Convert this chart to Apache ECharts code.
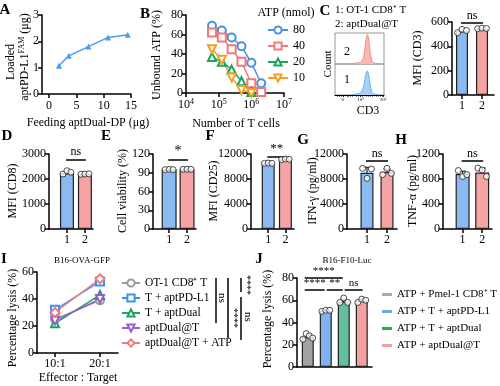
<!DOCTYPE html>
<html><head><meta charset="utf-8">
<script src="https://cdn.jsdelivr.net/npm/echarts@6.0.0/dist/echarts.min.js"></script>
<style>html,body{margin:0;padding:0;background:#fff;}#chart{width:500px;height:386px;}</style>
</head><body><div id="chart"></div>
<script>
// ================= DATA =================
// Panel A
const aFeeding = [1.8, 3.6, 7.2, 10.8, 14.4];
const aLoaded  = [1.07, 1.45, 1.80, 2.15, 2.25];
const aXTicks = [0, 5, 10, 15];
const aYTicks = [0, 1, 2, 3];
// Panel B
const bCells = [62500, 125000, 250000, 500000, 1000000, 2000000];
const bNames = ['80', '40', '20', '10'];
const bATP80 = [69, 64, 57, 48, 31, 10];
const bATP40 = [62, 57, 45, 32, 10, 1];
const bATP20 = [37, 32, 24, 12, 1];
const bATP10 = [45, 34, 16, 3, 0];
const bXTicks = [1e4, 1e5, 1e6, 1e7];
const bYTicks = [0, 20, 40, 60, 80];
// Panel C histogram
const cHistX  = [1.6, 1.9, 2.2, 2.5, 2.7, 2.9, 3.0, 3.1, 3.2, 3.3, 3.4, 3.5, 3.6, 3.7, 3.8, 4.0, 4.3, 4.6];
const cCount2 = [0.01,0.02,0.03,0.05,0.09,0.22,0.40,0.66,0.90,1.00,0.90,0.66,0.40,0.20,0.09,0.03,0.01,0];
const cCount1 = [0.01,0.02,0.03,0.06,0.12,0.26,0.42,0.62,0.77,0.81,0.72,0.53,0.34,0.17,0.08,0.03,0.01,0];
const cHistTicks = [0.8, 2.6, 4.9];
const cHistLabels = ['0', '10³', '10⁵'];
// Bar panels (groups 1 and 2)
const groups = ['1', '2'];
const cd3Mean = [525, 545];    const cd3Pts = [[512, 540, 530], [545, 549, 547]];
const cd8Mean = [2230, 2200];  const cd8Pts = [[2200, 2330, 2270], [2190, 2200, 2205]];
const viaMean = [95, 95];      const viaPts = [[95, 95.5, 95], [95.5, 95.5, 95.5]];
const cd25Mean = [10500, 11100]; const cd25Pts = [[10500, 10550, 10500], [11100, 11200, 11150]];
const ifnMean = [9000, 9100];  const ifnSD = [850, 500];  const ifnPts = [[9700, 8100, 9600], [8700, 9700, 8900]];
const tnfMean = [880, 905];    const tnfSD = [45, 70];    const tnfPts = [[935, 840, 870], [975, 945, 840]];
const cd3Ticks = [0, 200, 400, 600];
const cd8Ticks = [0, 1000, 2000, 3000];
const viaTicks = [0, 30, 60, 90, 120];
const cd25Ticks = [0, 4000, 8000, 12000];
const ifnTicks = [0, 4000, 8000, 12000];
const tnfTicks = [0, 400, 800, 1200];
// Panel I
const iRatios = ['10:1', '20:1'];
const iNames = ['OT-1 CD8⁺ T', 'T + aptPD-L1', 'T + aptDual', 'aptDual@T', 'aptDual@T + ATP'];
const iOT1 = [25, 39];
const iPDL1 = [32, 53];
const iDual = [22, 43];
const iDualT = [24, 40];
const iDualATP = [30, 55];
const iYTicks = [0, 20, 40, 60];
// Panel J
const jNames = ['ATP + Pmel-1 CD8⁺ T', 'ATP + T + aptPD-L1', 'ATP + T + aptDual', 'ATP + aptDual@T'];
const jMean = [27, 50.5, 58.5, 59.5];
const jSD = [2.2, 1, 2.3, 1.3];
const jPts = [[25, 30, 28, 26], [50, 51, 51], [58, 62, 58], [58, 61, 60]];
const jYTicks = [0, 20, 40, 60, 80];

// ================= STYLE =================
const F = 'Liberation Serif';
const AX = {color: '#000', width: 1.5};
const BLUE = '#8BBAF2', PINK = '#F6A3A3';
const jit3 = [-0.22, 0, 0.22];
const jit4 = [-0.27, -0.09, 0.09, 0.27];

const grids = [], xAxes = [], yAxes = [], series = [], graphics = [];
function addGrid(l, t, w, h, extra) { grids.push(Object.assign({left: l, top: t, width: w, height: h}, extra || {})); return grids.length - 1; }
function xVal(g, min, max, ticks, fmt, o) {
  xAxes.push(Object.assign({type: 'value', gridIndex: g, min, max, splitLine: {show: false},
    axisLine: {onZero: false, lineStyle: AX}, axisTick: {length: 4, lineStyle: AX, customValues: ticks},
    axisLabel: {color: '#000', fontFamily: F, fontSize: 12, margin: 5, customValues: ticks, formatter: fmt || (v => String(v))}}, o || {}));
  return xAxes.length - 1;
}
function yVal(g, min, max, ticks, o) {
  yAxes.push(Object.assign({type: 'value', gridIndex: g, min, max, splitLine: {show: false},
    axisLine: {onZero: false, lineStyle: AX}, axisTick: {length: 4, lineStyle: AX, customValues: ticks},
    axisLabel: {color: '#000', fontFamily: F, fontSize: 12, margin: 3, customValues: ticks, formatter: v => String(v)}}, o || {}));
  return yAxes.length - 1;
}
function errSeries(xi, yi, data, cap) {
  return {type: 'custom', xAxisIndex: xi, yAxisIndex: yi, z: 1, silent: true, clip: false,
    encode: {x: 0, y: 1},
    renderItem: (p, api) => {
      const x = api.value(0), m = api.value(1), s = api.value(2);
      const top = api.coord([x, m + s]), bot = api.coord([x, m - s]);
      const st = {stroke: '#222', lineWidth: 1.2};
      return {type: 'group', children: [
        {type: 'line', shape: {x1: top[0], y1: top[1], x2: bot[0], y2: bot[1]}, style: st},
        {type: 'line', shape: {x1: top[0] - cap, y1: top[1], x2: top[0] + cap, y2: top[1]}, style: st}]};
    }, data};
}
function sigLines(list, fs) {
  return {symbol: 'none', silent: true, animation: false,
    lineStyle: {color: '#000', width: 1.5, type: 'solid'},
    label: {show: true, position: 'insideMiddleTop', distance: 1, color: '#000', fontFamily: F, fontSize: fs || 12},
    emphasis: {disabled: true},
    data: list.map(s => [{coord: [s[0], s[2]], label: {formatter: s[3]}}, {coord: [s[1], s[2]]}])};
}
function ptsData(pts) { return pts.flatMap((arr, i) => arr.map((v, k) => [i + (arr.length === 4 ? jit4 : jit3)[k], v])); }
function barPanel(g, xr, ticks, means, pts, sig, bw, sd, sigFs) {
  const xi = xVal(g, xr[0], xr[1], [0, 1], v => groups[Math.round(v)]);
  const yi = yVal(g, ticks[0], ticks[ticks.length - 1], ticks);
  if (sd) series.push(errSeries(xi, yi, means.map((m, i) => [i, m, sd[i]]), 3.5));
  series.push({type: 'bar', xAxisIndex: xi, yAxisIndex: yi, barWidth: bw, clip: false, silent: true,
    itemStyle: {borderColor: '#222', borderWidth: 1.2},
    data: means.map((m, i) => ({value: [i, m], itemStyle: {color: i === 0 ? BLUE : PINK}})),
    markLine: sigLines([[-0.05, 1.05, sig[0], sig[1]]], sigFs)});
  series.push({type: 'scatter', xAxisIndex: xi, yAxisIndex: yi, z: 5, silent: true, symbol: 'circle', symbolSize: 6,
    itemStyle: {color: '#fff', borderColor: '#222', borderWidth: 1}, data: ptsData(pts)});
}
function T(x, y, text, size, o) {
  o = o || {};
  return {type: 'text', x, y, rotation: o.rot || 0, silent: true, z: 100,
    style: Object.assign({text, fontFamily: F, fontSize: size, fontWeight: o.bold ? 'bold' : 'normal', fill: '#000',
      align: o.align || 'center', verticalAlign: 'middle', textAlign: o.align || 'center', textVerticalAlign: 'middle'}, o.style || {})};
}
function L(x1, y1, x2, y2, w) { return {type: 'line', silent: true, z: 100, shape: {x1, y1, x2, y2}, style: {stroke: '#000', lineWidth: w || 1.5}}; }
const V = Math.PI / 2;
const SUP = {s: {fontSize: 8, fontFamily: F, verticalAlign: 'top', padding: [0, 0, 6, 0]}};

// ================= PANEL A =================
{
  const g = addGrid(42, 15, 89, 79);
  const xi = xVal(g, -1.3, 15, aXTicks, null, {axisLabel: {color: '#000', fontFamily: F, fontSize: 12, margin: 6, customValues: aXTicks, formatter: v => String(v)}});
  const yi = yVal(g, 0, 3, aYTicks);
  series.push({type: 'line', xAxisIndex: xi, yAxisIndex: yi, symbol: 'triangle', symbolSize: 6,
    lineStyle: {color: '#4A9EEA', width: 1.5}, itemStyle: {color: '#4A9EEA'}, silent: true,
    data: aFeeding.map((x, i) => [x, aLoaded[i]])});
  graphics.push(T(5, 10, 'A', 15, {bold: true}));
  graphics.push(T(11, 62, 'Loaded', 12, {rot: V}));
  graphics.push(T(25, 57, 'aptPD-L1{s|FAM} (μg)', 12, {rot: V, style: {rich: SUP}}));
  graphics.push(T(88, 123, 'Feeding aptDual-DP (μg)', 12));
}
// ================= PANEL B =================
{
  const g = addGrid(186, 15, 98, 78);
  const xi = xAxes.length;
  xAxes.push({type: 'log', logBase: 10, gridIndex: g, min: 1e4, max: 1e7, splitLine: {show: false},
    axisLine: {onZero: false, lineStyle: AX}, axisTick: {length: 4, lineStyle: AX, customValues: bXTicks},
    minorTick: {show: false},
    axisLabel: {color: '#000', fontFamily: F, fontSize: 12, margin: 5, customValues: bXTicks,
      formatter: v => '10{s|' + Math.round(Math.log10(v)) + '}', rich: SUP}});
  const yi = yVal(g, 0, 80, bYTicks);
  const cols = ['#4A90E2', '#F07A7A', '#1BA55A', '#F5A020'];
  const syms = ['emptyCircle', 'emptyRect', 'emptyTriangle', 'emptyTriangle'];
  [bATP80, bATP40, bATP20, bATP10].forEach((arr, k) => {
    series.push({type: 'line', name: bNames[k], xAxisIndex: xi, yAxisIndex: yi, symbol: syms[k], symbolSize: 8,
      symbolRotate: k === 3 ? 180 : 0, silent: true,
      lineStyle: {color: cols[k], width: 1.5}, itemStyle: {color: cols[k], borderWidth: 1.5},
      data: arr.map((v, i) => [bCells[i], v])});
  });
  graphics.push(T(145, 14, 'B', 15, {bold: true}));
  graphics.push(T(157, 55, 'Unbound ATP (%)', 12, {rot: V}));
  graphics.push(T(236, 124, 'Number of T cells', 12));
  graphics.push(T(286, 13, 'ATP (nmol)', 12));
}
// ================= PANEL C =================
{
  const g2 = addGrid(335, 33, 49, 31, {show: true, borderColor: '#999', borderWidth: 1});
  const g1 = addGrid(335, 64, 49, 31, {show: true, borderColor: '#999', borderWidth: 1});
  const x2 = xVal(g2, 0, 5, [], null, {show: false});
  const y2 = yVal(g2, 0, 1.05, [], {show: false});
  const x1 = xVal(g1, 0, 5, cHistTicks, null, {
    axisLine: {onZero: false, lineStyle: {color: '#000', width: 1}},
    axisTick: {length: 2, lineStyle: {color: '#000', width: 0.8}, customValues: cHistTicks},
    minorTick: {show: true, length: 1.5, splitNumber: 5},
    axisLabel: {color: '#000', fontFamily: F, fontSize: 5, margin: 2, customValues: cHistTicks,
      formatter: v => cHistLabels[cHistTicks.indexOf(v)]}});
  const y1 = yVal(g1, 0, 1.05, [], {show: false});
  series.push({type: 'line', xAxisIndex: x2, yAxisIndex: y2, smooth: 0.4, symbol: 'none', silent: true,
    lineStyle: {color: '#F08A8A', width: 1}, areaStyle: {color: '#F9B8B8', opacity: 1},
    data: cHistX.map((x, i) => [x, cCount2[i]])});
  series.push({type: 'line', xAxisIndex: x1, yAxisIndex: y1, smooth: 0.4, symbol: 'none', silent: true,
    lineStyle: {color: '#6AAEF0', width: 1}, areaStyle: {color: '#A9D1F8', opacity: 1},
    data: cHistX.map((x, i) => [x, cCount1[i]])});
  graphics.push(T(325, 11, 'C', 15, {bold: true}));
  graphics.push(T(335, 10, '1: OT-1 CD8⁺ T', 11, {align: 'left'}));
  graphics.push(T(335, 24, '2: aptDual@T', 11, {align: 'left'}));
  graphics.push(T(347, 52, '2', 12));
  graphics.push(T(347, 80, '1', 12));
  graphics.push(T(328, 64, 'Count', 11, {rot: V}));
  graphics.push(T(368, 111, 'CD3', 12));

  const g = addGrid(452, 22, 42, 73);
  barPanel(g, [-0.5, 1.6], cd3Ticks, cd3Mean, cd3Pts, [590, 'ns'], 12);
  graphics.push(T(418, 58, 'MFI (CD3)', 12, {rot: V}));
}
// ================= ROW 2 =================
{
  barPanel(addGrid(49, 154, 44, 75), [-1, 1.45], cd8Ticks, cd8Mean, cd8Pts, [2790, 'ns'], 14);
  graphics.push(T(7, 136, 'D', 15, {bold: true}));
  graphics.push(T(13, 191, 'MFI (CD8)', 12, {rot: V}));

  barPanel(addGrid(153, 154, 43, 75), [-0.9, 1.5], viaTicks, viaMean, viaPts, [111, '*'], 15, null, 14);
  graphics.push(T(106, 136, 'E', 15, {bold: true}));
  graphics.push(T(123, 191, 'Cell viability (%)', 12, {rot: V}));

  barPanel(addGrid(251, 154, 43, 75), [-1, 1.5], cd25Ticks, cd25Mean, cd25Pts, [11600, '**'], 13, null, 13);
  graphics.push(T(210, 136, 'F', 15, {bold: true}));
  graphics.push(T(214, 191, 'MFI (CD25)', 12, {rot: V}));

  barPanel(addGrid(347, 154, 50, 75), [-1, 1.5], ifnTicks, ifnMean, ifnPts, [10900, 'ns'], 13, ifnSD);
  graphics.push(T(303, 140, 'G', 15, {bold: true}));
  graphics.push(T(313, 191, 'IFN-γ (pg/ml)', 12, {rot: V}));

  barPanel(addGrid(443, 154, 49, 75), [-1, 1.5], tnfTicks, tnfMean, tnfPts, [1090, 'ns'], 14, tnfSD);
  graphics.push(T(401, 140, 'H', 15, {bold: true}));
  graphics.push(T(413, 191, 'TNF-α (pg/ml)', 12, {rot: V}));
}
// ================= PANEL I =================
{
  const g = addGrid(37, 272, 81, 81);
  const xi = xVal(g, -0.4, 1.4, [0, 1], v => iRatios[Math.round(v)]);
  const yi = yVal(g, 0, 60, iYTicks);
  const cols = ['#9B9B9B', '#3F8FEF', '#17A65A', '#9A5BD3', '#F07C7C'];
  const syms = ['emptyCircle', 'emptyRect', 'emptyTriangle', 'emptyTriangle', 'emptyDiamond'];
  [iOT1, iPDL1, iDual, iDualT, iDualATP].forEach((arr, k) => {
    series.push({type: 'line', name: iNames[k], xAxisIndex: xi, yAxisIndex: yi, symbol: syms[k], symbolSize: k === 4 ? 9 : 8,
      symbolRotate: k === 3 ? 180 : 0, silent: true,
      lineStyle: {color: cols[k], width: 1.5}, itemStyle: {color: cols[k], borderWidth: 1.5},
      data: arr.map((v, i) => [i, v])});
  });
  graphics.push(T(4, 259, 'I', 15, {bold: true}));
  graphics.push(T(82, 261, 'B16-OVA-GFP', 9));
  graphics.push(T(13, 318, 'Percentage lysis (%)', 12, {rot: V}));
  graphics.push(T(78, 378, 'Effector : Target', 12));
  graphics.push(L(216, 278, 216, 323));
  graphics.push(T(222, 298, 'ns', 11, {rot: -V}));
  graphics.push(L(228, 278, 228, 338));
  graphics.push(T(234, 318, '****', 10, {rot: -V}));
  graphics.push(L(241, 278, 241, 292));
  graphics.push(T(247, 285, '****', 10, {rot: -V}));
  graphics.push(L(241, 297, 241, 340));
  graphics.push(T(248, 317, 'ns', 11, {rot: -V}));
}
// ================= PANEL J =================
{
  const g = addGrid(297, 278, 75, 89);
  const xi = xVal(g, -0.6, 3.57, [], null, {axisLabel: {show: false}, axisTick: {show: false}});
  const yi = yVal(g, 0, 80, jYTicks);
  const cols = ['#A3A3A3', '#80B2EE', '#63BE9B', '#F5A0A0'];
  series.push(errSeries(xi, yi, jMean.map((m, i) => [i, m, jSD[i]]), 3));
  jMean.forEach((m, i) => {
    const s = {type: 'bar', name: jNames[i], xAxisIndex: xi, yAxisIndex: yi, barWidth: 12, barGap: '-100%', clip: false, silent: true,
      itemStyle: {color: cols[i], borderColor: '#222', borderWidth: 1.2}, data: [[i, m]]};
    if (i === 0) s.markLine = sigLines([[-0.17, 1.94, 80, '****'], [-0.17, 0.94, 69.5, '****'], [1.05, 1.94, 69.5, '**'], [2.05, 3.05, 69.5, 'ns']], 11);
    series.push(s);
  });
  series.push({type: 'scatter', xAxisIndex: xi, yAxisIndex: yi, z: 5, silent: true, symbol: 'circle', symbolSize: 6,
    itemStyle: {color: '#fff', borderColor: '#222', borderWidth: 1}, data: ptsData(jPts)});
  graphics.push(T(259, 259, 'J', 15, {bold: true}));
  graphics.push(T(347, 261, 'B16-F10-Luc', 9));
  graphics.push(T(268, 319, 'Percentage lysis (%)', 12, {rot: V}));
}

const LT = {fontFamily: F, fontSize: 12, color: '#000'};
const option = {
  animation: false,
  textStyle: {fontFamily: F},
  grid: grids, xAxis: xAxes, yAxis: yAxes, series,
  legend: [
    {data: bNames, left: 262, top: 19, orient: 'vertical', itemWidth: 20, itemHeight: 9, itemGap: 4, selectedMode: false, textStyle: LT},
    {data: iNames, left: 116, top: 272, orient: 'vertical', itemWidth: 18, itemHeight: 9, itemGap: 3, selectedMode: false, textStyle: Object.assign({}, LT, {fontSize: 11.5})},
    {data: jNames.map((n, i) => ({name: n, itemStyle: {color: ['#AAAAAA', '#6FA8EA', '#22B04C', '#F5A0A0'][i], borderWidth: 0}})),
      left: 377, top: 284, orient: 'vertical', icon: 'rect', itemWidth: 10, itemHeight: 3, itemGap: 6, selectedMode: false,
      itemStyle: {borderWidth: 0}, textStyle: Object.assign({}, LT, {fontSize: 11})}
  ],
  graphic: graphics
};
const chart = echarts.init(document.getElementById('chart'));
chart.setOption(option);
</script>
</body></html>
